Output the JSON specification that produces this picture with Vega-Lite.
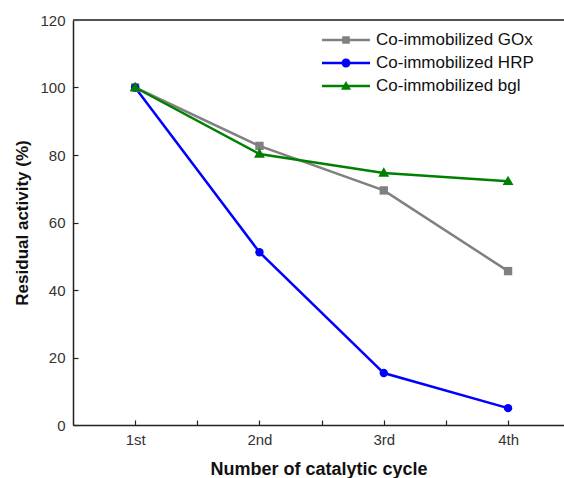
{
  "$schema": "https://vega.github.io/schema/vega-lite/v6.json",
  "width": 491,
  "height": 405,
  "autosize": {"type": "none"},
  "padding": {"left": 73, "top": 20, "right": 0, "bottom": 53},
  "background": "white",
  "config": {
    "view": {"stroke": null},
    "font": "Liberation Sans",
    "axis": {
      "domainColor": "#222",
      "domainWidth": 1.5,
      "tickColor": "#222",
      "tickWidth": 1.2,
      "tickSize": -5,
      "labelFont": "Liberation Sans",
      "labelFontSize": 15,
      "labelColor": "#333",
      "titleFont": "Liberation Sans",
      "titleFontWeight": "bold",
      "titleColor": "#111",
      "grid": false
    }
  },
  "data": {
    "values": [
      {"cycle": 1, "series": "Co-immobilized GOx", "value": 100},
      {"cycle": 2, "series": "Co-immobilized GOx", "value": 82.7},
      {"cycle": 3, "series": "Co-immobilized GOx", "value": 69.5},
      {"cycle": 4, "series": "Co-immobilized GOx", "value": 45.6},
      {"cycle": 1, "series": "Co-immobilized HRP", "value": 100},
      {"cycle": 2, "series": "Co-immobilized HRP", "value": 51.2},
      {"cycle": 3, "series": "Co-immobilized HRP", "value": 15.4},
      {"cycle": 4, "series": "Co-immobilized HRP", "value": 5.0},
      {"cycle": 1, "series": "Co-immobilized bgl", "value": 100},
      {"cycle": 2, "series": "Co-immobilized bgl", "value": 80.3},
      {"cycle": 3, "series": "Co-immobilized bgl", "value": 74.7},
      {"cycle": 4, "series": "Co-immobilized bgl", "value": 72.2}
    ]
  },
  "resolve": {"scale": {"shape": "independent", "color": "independent"}},
  "layer": [
    {
      "mark": {"type": "line", "strokeWidth": 2.5},
      "encoding": {
        "x": {
          "field": "cycle", "type": "quantitative",
          "scale": {"domain": [0.5, 4.45], "nice": false, "zero": false},
          "axis": {
            "title": "Number of catalytic cycle",
            "titleFontSize": 18,
            "values": [1, 1.5, 2, 2.5, 3, 3.5, 4],
            "labelExpr": "datum.value == 1 ? '1st' : datum.value == 2 ? '2nd' : datum.value == 3 ? '3rd' : datum.value == 4 ? '4th' : ''",
            "labelPadding": 12,
            "titlePadding": 13
          }
        },
        "y": {
          "field": "value", "type": "quantitative",
          "scale": {"domain": [0, 120], "nice": false},
          "axis": {
            "title": "Residual activity (%)",
            "titleFontSize": 17,
            "values": [0, 10, 20, 30, 40, 50, 60, 70, 80, 90, 100, 110, 120],
            "labelExpr": "datum.value % 20 == 0 ? datum.label : ''",
            "labelPadding": 13,
            "titlePadding": 8
          }
        },
        "color": {
          "field": "series", "type": "nominal",
          "scale": {
            "domain": ["Co-immobilized GOx", "Co-immobilized HRP", "Co-immobilized bgl"],
            "range": ["#808080", "#0000ff", "#008000"]
          },
          "legend": null
        }
      }
    },
    {
      "mark": {"type": "point", "filled": true, "opacity": 1, "size": 70},
      "encoding": {
        "x": {"field": "cycle", "type": "quantitative"},
        "y": {"field": "value", "type": "quantitative"},
        "color": {
          "field": "series", "type": "nominal",
          "scale": {
            "domain": ["Co-immobilized GOx", "Co-immobilized HRP", "Co-immobilized bgl"],
            "range": ["#808080", "#0000ff", "#008000"]
          },
          "legend": null
        },
        "shape": {
          "field": "series", "type": "nominal",
          "scale": {
            "domain": ["Co-immobilized GOx", "Co-immobilized HRP", "Co-immobilized bgl"],
            "range": ["square", "circle", "M0,-1.35L1.3,0.9L-1.3,0.9Z"]
          },
          "legend": null
        }
      }
    },
    {
      "mark": {"type": "point", "filled": true, "opacity": 0},
      "encoding": {
        "x": {"field": "cycle", "type": "quantitative"},
        "y": {"field": "value", "type": "quantitative"},
        "color": {
          "field": "series", "type": "nominal",
          "scale": {
            "domain": ["Co-immobilized GOx", "Co-immobilized HRP", "Co-immobilized bgl"],
            "range": ["#808080", "#0000ff", "#008000"]
          },
          "legend": {
            "title": null,
            "orient": "none",
            "legendX": 263,
            "legendY": 10,
            "symbolSize": 400,
            "symbolOpacity": 1,
            "symbolStrokeWidth": 0,
            "labelFont": "Liberation Sans",
            "labelFontSize": 17,
            "labelColor": "#111",
            "labelOffset": 20,
            "rowPadding": 5
          }
        },
        "shape": {
          "field": "series", "type": "nominal",
          "scale": {
            "domain": ["Co-immobilized GOx", "Co-immobilized HRP", "Co-immobilized bgl"],
            "range": [
              "M-2.4,-0.12H2.4V0.12H-2.4Z M-0.38,-0.38H0.38V0.38H-0.38Z",
              "M-2.4,-0.12H2.4V0.12H-2.4Z M-0.45,0A0.45,0.45 0 1,1 0.45,0A0.45,0.45 0 1,1 -0.45,0Z",
              "M-2.4,-0.12H2.4V0.12H-2.4Z M0,-0.5L0.5,0.38L-0.5,0.38Z"
            ]
          },
          "legend": {
            "title": null,
            "orient": "none",
            "legendX": 263,
            "legendY": 10,
            "symbolSize": 400,
            "symbolOpacity": 1,
            "symbolStrokeWidth": 0,
            "labelFont": "Liberation Sans",
            "labelFontSize": 17,
            "labelColor": "#111",
            "labelOffset": 20,
            "rowPadding": 5
          }
        }
      }
    },
    {
      "mark": {"type": "rule", "color": "#555", "strokeWidth": 1.5},
      "encoding": {"y": {"datum": 120}}
    }
  ]
}
